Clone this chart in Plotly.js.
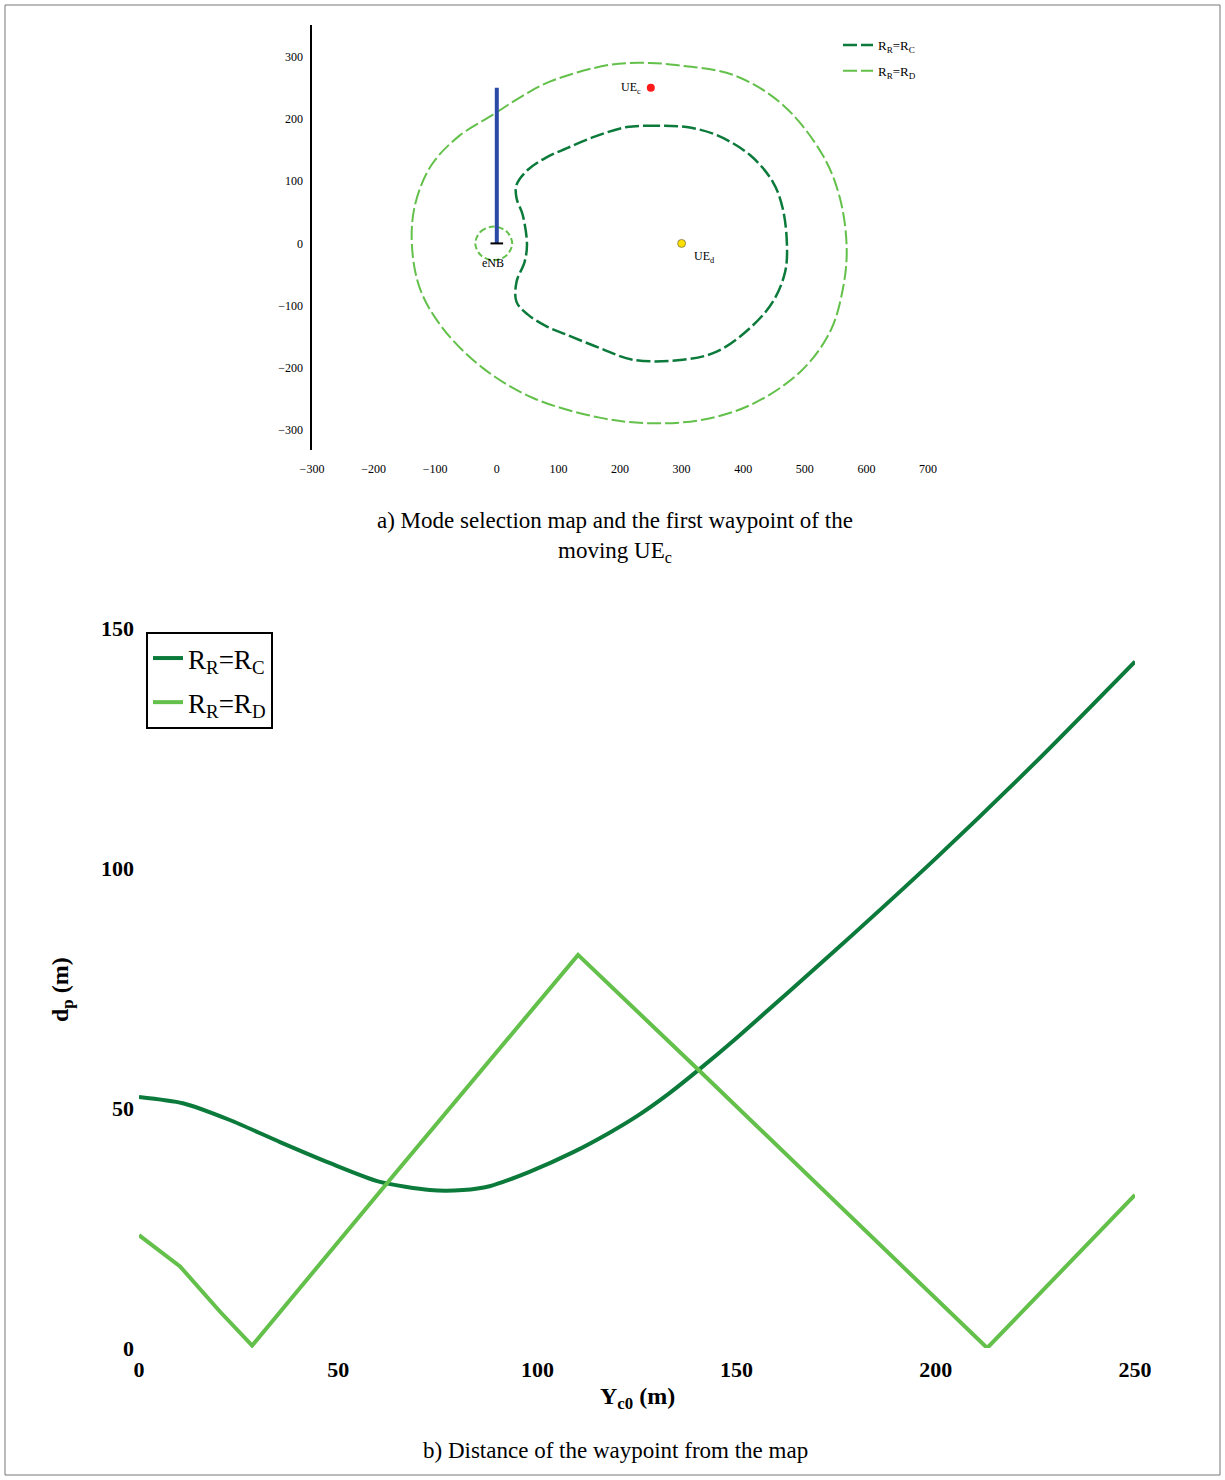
<!DOCTYPE html>
<html>
<head>
<meta charset="utf-8">
<script src="https://cdn.plot.ly/plotly-3.0.1.min.js"></script>
<style>
  html, body { margin: 0; padding: 0; background: #ffffff; }
  #chart { width: 1225px; height: 1480px; }
</style>
</head>
<body>
<div id="chart"></div>
<script>
// ---------- (a) mode selection map ----------
// R_R = R_C boundary (dark green), traced from the map
const rcX = [308, 260, 211, 160, 114, 80, 50, 32, 32, 42, 49, 45, 32, 32, 50, 80, 114, 167, 221, 302, 357, 411, 448, 468, 471, 464, 448, 411, 357, 308];
const rcY = [187, 189, 187, 172, 153, 138, 118, 94, 73, 46, -2, -30, -62, -94, -114, -133, -147, -168, -187, -187, -174, -136, -94, -46, -2, 57, 99, 142, 174, 187];
// R_R = R_D boundary (light green), outer closed curve
const rdOuterX = [-138, -132, -106, -62, -6, 40, 86, 183, 248, 286, 383, 464, 529, 557, 568, 562, 541, 492, 411, 330, 248, 167, 58, -23, -88, -125, -138];
const rdOuterY = [2, 65, 126, 172, 207, 236, 260, 287, 290, 287, 271, 223, 142, 73, -7, -72, -142, -207, -260, -284, -289, -280, -248, -200, -136, -72, 2];
// R_R = R_D boundary, small closed curve around the eNB
const rdInnerX = [-35, -26, -5, 16, 25, 16, -5, -26, -35];
const rdInnerY = [0, 19, 27, 19, 0, -19, -27, -19, 0];
// UE_c path (blue) and node positions
const pathX = [0, 0];
const pathY = [0, 250];
const enbPos = [0, 0];
const ueCPos = [250, 250];
const ueDPos = [300, 0];
const mapTicksX = [-300, -200, -100, 0, 100, 200, 300, 400, 500, 600, 700];
const mapTicksY = [-300, -200, -100, 0, 100, 200, 300];

// ---------- (b) distance of the waypoint from the map ----------
const rcDistX = [0, 11, 22.8, 35.4, 48, 60.5, 73, 81.3, 88, 98, 109, 118, 125, 133, 141, 150, 175, 200, 225, 250];
const rcDistY = [52.3, 51, 47.5, 42.9, 38.5, 34.6, 32.9, 32.9, 33.7, 36.7, 40.8, 44.8, 48.3, 53, 58.3, 64.6, 83, 102, 122, 143];
const rdDistX = [0, 10.3, 20.3, 28.4, 62.5, 110.2, 141, 212.9, 250];
const rdDistY = [23.5, 17, 7.6, 0.5, 34.6, 81.9, 57.5, 0, 31.9];
const distTicksX = [0, 50, 100, 150, 200, 250];
const distTicksY = [0, 50, 100, 150];

const DARK = '#0b7a3b';
const LIGHT = '#63c04a';
const SERIF = 'Liberation Serif, Times New Roman, serif';

const traces = [
  {x: rcX, y: rcY, type: 'scatter', mode: 'lines', name: 'R<sub>R</sub>=R<sub>C</sub>',
   line: {color: DARK, width: 2.5, dash: '14px,4px', shape: 'spline', smoothing: 1},
   xaxis: 'x', yaxis: 'y', legend: 'legend2', legendgroup: 'a1'},
  {x: rdOuterX, y: rdOuterY, type: 'scatter', mode: 'lines', name: 'R<sub>R</sub>=R<sub>D</sub>',
   line: {color: LIGHT, width: 2, dash: '14px,4px', shape: 'spline', smoothing: 1},
   xaxis: 'x', yaxis: 'y', legend: 'legend2', legendgroup: 'a2'},
  {x: rdInnerX, y: rdInnerY, type: 'scatter', mode: 'lines', showlegend: false,
   line: {color: LIGHT, width: 2, dash: '6px,3px', shape: 'spline', smoothing: 1},
   xaxis: 'x', yaxis: 'y'},
  {x: pathX, y: pathY, type: 'scatter', mode: 'lines', showlegend: false,
   line: {color: '#2b4aa6', width: 4}, xaxis: 'x', yaxis: 'y'},
  {x: [enbPos[0]], y: [enbPos[1]], type: 'scatter', mode: 'markers', showlegend: false,
   marker: {symbol: 'line-ew', size: 9, line: {color: '#000', width: 2}}, xaxis: 'x', yaxis: 'y'},
  {x: [ueCPos[0]], y: [ueCPos[1]], type: 'scatter', mode: 'markers', showlegend: false,
   marker: {symbol: 'circle', size: 8, color: '#ff1a1a'}, xaxis: 'x', yaxis: 'y'},
  {x: [ueDPos[0]], y: [ueDPos[1]], type: 'scatter', mode: 'markers', showlegend: false,
   marker: {symbol: 'circle', size: 8, color: '#ffe000', line: {color: '#333', width: 0.5}}, xaxis: 'x', yaxis: 'y'},

  {x: rcDistX, y: rcDistY, type: 'scatter', mode: 'lines', name: 'R<sub>R</sub>=R<sub>C</sub>',
   line: {color: DARK, width: 4, shape: 'spline', smoothing: 0.7}, xaxis: 'x2', yaxis: 'y2',
   legend: 'legend', legendgroup: 'b1'},
  {x: rdDistX, y: rdDistY, type: 'scatter', mode: 'lines', name: 'R<sub>R</sub>=R<sub>D</sub>',
   line: {color: LIGHT, width: 4}, xaxis: 'x2', yaxis: 'y2', legend: 'legend', legendgroup: 'b2'}
];

const layout = {
  width: 1225, height: 1480,
  margin: {l: 0, r: 0, t: 0, b: 0},
  paper_bgcolor: '#ffffff', plot_bgcolor: 'rgba(0,0,0,0)',
  showlegend: true,
  font: {family: SERIF, color: '#000'},
  xaxis: {
    domain: [312 / 1225, 928 / 1225], range: [-300, 700], anchor: 'y',
    tickvals: mapTicksX, showgrid: false, zeroline: false, showline: false, ticks: '',
    tickfont: {family: SERIF, size: 12, color: '#000'}, ticklabelstandoff: 10
  },
  yaxis: {
    domain: [(1480 - 450) / 1480, (1480 - 25) / 1480], range: [-332, 351], anchor: 'x',
    tickvals: mapTicksY, showgrid: false, zeroline: false,
    showline: true, linecolor: '#000', linewidth: 2.5, ticks: '',
    tickfont: {family: SERIF, size: 12, color: '#000'}, ticklabelstandoff: 4
  },
  xaxis2: {
    domain: [139 / 1225, 1135 / 1225], range: [0, 250], anchor: 'y2',
    tickvals: distTicksX, showgrid: false, zeroline: false, showline: false, ticks: '',
    tickfont: {family: SERIF, size: 22, color: '#000', weight: 'bold'}, ticklabelstandoff: 6
  },
  yaxis2: {
    domain: [(1480 - 1348) / 1480, (1480 - 628) / 1480], range: [0, 150], anchor: 'x2',
    tickvals: distTicksY, showgrid: false, zeroline: false, showline: false, ticks: '',
    tickfont: {family: SERIF, size: 22, color: '#000', weight: 'bold'}, ticklabelstandoff: 4
  },
  legend: {
    x: 146 / 1225, y: (1480 - 632) / 1480, xanchor: 'left', yanchor: 'top',
    bordercolor: '#000', borderwidth: 2, bgcolor: '#fff', traceorder: 'grouped',
    font: {family: SERIF, size: 27, color: '#000'}, tracegroupgap: 6
  },
  legend2: {
    x: 838 / 1225, y: (1480 - 30) / 1480, xanchor: 'left', yanchor: 'top',
    bgcolor: 'rgba(0,0,0,0)', borderwidth: 0, traceorder: 'grouped', tracegroupgap: 6,
    font: {family: SERIF, size: 13, color: '#000'}
  },
  annotations: [
    {x: ueCPos[0], y: ueCPos[1], xref: 'x', yref: 'y', text: 'UE<sub>c</sub>', showarrow: false,
     xanchor: 'right', yanchor: 'middle', xshift: -8, font: {family: SERIF, size: 12}},
    {x: ueDPos[0], y: ueDPos[1], xref: 'x', yref: 'y', text: 'UE<sub>d</sub>', showarrow: false,
     xanchor: 'left', yanchor: 'middle', xshift: 10, yshift: -14, font: {family: SERIF, size: 12}},
    {x: enbPos[0], y: enbPos[1], xref: 'x', yref: 'y', text: 'eNB', showarrow: false,
     xanchor: 'center', yanchor: 'middle', xshift: -4, yshift: -20, font: {family: SERIF, size: 12}},
    {x: 615 / 1225, y: (1480 - 520) / 1480, xref: 'paper', yref: 'paper', showarrow: false,
     xanchor: 'center', yanchor: 'middle',
     text: 'a) Mode selection map and the first waypoint of the', font: {family: SERIF, size: 23}},
    {x: 615 / 1225, y: (1480 - 552) / 1480, xref: 'paper', yref: 'paper', showarrow: false,
     xanchor: 'center', yanchor: 'middle',
     text: 'moving UE<sub>c</sub>', font: {family: SERIF, size: 23}},
    {x: 615 / 1225, y: (1480 - 1450) / 1480, xref: 'paper', yref: 'paper', showarrow: false,
     xanchor: 'center', yanchor: 'middle',
     text: 'b) Distance of the waypoint from the map', font: {family: SERIF, size: 23}},
    {x: 62 / 1225, y: (1480 - 990) / 1480, xref: 'paper', yref: 'paper', showarrow: false,
     xanchor: 'center', yanchor: 'middle',
     text: '<b>d<sub>p</sub> (m)</b>', textangle: -90, font: {family: SERIF, size: 24}},
    {x: 637 / 1225, y: (1480 - 1398) / 1480, xref: 'paper', yref: 'paper', showarrow: false,
     xanchor: 'center', yanchor: 'middle',
     text: '<b>Y<sub>c0</sub> (m)</b>', font: {family: SERIF, size: 24}}
  ],
  shapes: [
    {type: 'rect', xref: 'paper', yref: 'paper',
     x0: 5 / 1225, x1: 1220 / 1225, y0: 5 / 1480, y1: 1475 / 1480,
     line: {color: '#777', width: 1}}
  ]
};

Plotly.newPlot('chart', traces, layout, {staticPlot: true, displayModeBar: false});
</script>
</body>
</html>
